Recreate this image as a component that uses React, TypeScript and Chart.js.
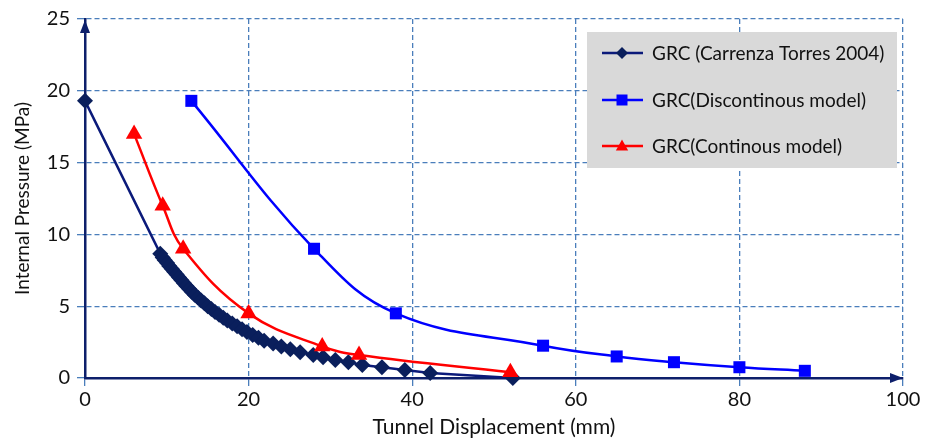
import React, { useEffect, useRef } from "react";
import { Chart, registerables } from "chart.js";

Chart.register(...registerables);

// Ground reaction curves: tunnel displacement (mm) vs internal pressure (MPa)
const carranzaDisp = [
  0, 9.2, 9.5, 9.75, 10.05, 10.3, 10.6, 10.9, 11.2, 11.5, 11.8, 12.1, 12.4, 12.75,
  13.05, 13.4, 13.8, 14.2, 14.6, 15.0, 15.45, 15.9, 16.4, 16.9, 17.4, 18.0, 18.6,
  19.2, 19.8, 20.5, 21.2, 21.9, 23.0, 24.0, 25.1, 26.3, 27.9, 29.1, 30.6, 32.2,
  33.9, 36.3, 39.1, 42.2, 52.3,
];
const carranzaPress = [
  19.3, 8.66, 8.4, 8.2, 8.0, 7.8, 7.6, 7.4, 7.2, 7.0, 6.8, 6.6, 6.4, 6.2,
  6.0, 5.8, 5.6, 5.4, 5.2, 5.0, 4.8, 4.6, 4.4, 4.2, 4.0, 3.8, 3.6,
  3.4, 3.2, 3.0, 2.8, 2.6, 2.4, 2.2, 2.0, 1.8, 1.6, 1.45, 1.25, 1.1,
  0.9, 0.75, 0.55, 0.35, 0,
];
const discontDisp = [13, 28, 38, 56, 65, 72, 80, 88];
const discontPress = [19.3, 9.0, 4.5, 2.25, 1.5, 1.1, 0.75, 0.5];
const contDisp = [6, 9.5, 12, 20, 29, 33.5, 52];
const contPress = [17, 12, 9, 4.5, 2.2, 1.6, 0.4];

const seriesNames = [
  "GRC (Carrenza Torres 2004)",
  "GRC(Discontinous model)",
  "GRC(Continous model)",
];
const xTitle = "Tunnel Displacement (mm)";
const yTitle = "Internal Pressure (MPa)";

const NAVY_LINE = "#0B1A7A";
const NAVY_FILL = "#0A1F5C";
const BLUE = "#0000FF";
const RED = "#FF0000";
const AXIS = "#0D1F6B";
const GRID = "#4A7EBB";
const TEXT = "#111111";
const FONT = "Lato, 'Open Sans', sans-serif";

const pairs = (xs: number[], ys: number[]) => xs.map((x, i) => ({ x, y: ys[i] }));

type Marker = "diamond" | "square" | "triangle";

function drawMarker(ctx: CanvasRenderingContext2D, kind: Marker, x: number, y: number, r: number, color: string) {
  ctx.fillStyle = color;
  ctx.beginPath();
  if (kind === "diamond") {
    ctx.moveTo(x, y - r);
    ctx.lineTo(x + r, y);
    ctx.lineTo(x, y + r);
    ctx.lineTo(x - r, y);
  } else if (kind === "square") {
    ctx.rect(x - r, y - r, 2 * r, 2 * r);
  } else {
    ctx.moveTo(x, y - r);
    ctx.lineTo(x + r * 0.95, y + r * 0.7);
    ctx.lineTo(x - r * 0.95, y + r * 0.7);
  }
  ctx.closePath();
  ctx.fill();
}

const decorPlugin = {
  id: "decor",
  afterDraw(chart: any) {
    const { ctx, chartArea: a } = chart;
    ctx.save();
    // axis arrowheads
    ctx.fillStyle = AXIS;
    ctx.beginPath();
    ctx.moveTo(a.left, a.top + 1);
    ctx.lineTo(a.left - 5, a.top + 14);
    ctx.lineTo(a.left + 5, a.top + 14);
    ctx.closePath();
    ctx.fill();
    ctx.beginPath();
    ctx.moveTo(a.right, a.bottom);
    ctx.lineTo(a.right - 13, a.bottom - 5);
    ctx.lineTo(a.right - 13, a.bottom + 5);
    ctx.closePath();
    ctx.fill();

    // legend box
    const bx = 587, by = 32, bw = 310, bh = 136;
    ctx.fillStyle = "#D9D9D9";
    ctx.fillRect(bx, by, bw, bh);
    const rows = [53, 100, 146];
    const lineColors = [NAVY_LINE, BLUE, RED];
    const markColors = [NAVY_FILL, BLUE, RED];
    const kinds: Marker[] = ["diamond", "square", "triangle"];
    const sizes = [6, 5.5, 6.5];
    ctx.font = `19px ${FONT}`;
    ctx.textBaseline = "middle";
    ctx.textAlign = "left";
    rows.forEach((ry, i) => {
      ctx.strokeStyle = lineColors[i];
      ctx.lineWidth = 2.5;
      ctx.beginPath();
      ctx.moveTo(602, ry);
      ctx.lineTo(643, ry);
      ctx.stroke();
      drawMarker(ctx, kinds[i], 622, ry, sizes[i], markColors[i]);
      ctx.fillStyle = TEXT;
      ctx.fillText(seriesNames[i], 652, ry + 1);
    });
    ctx.restore();
  },
};

const gridOpts = {
  color: GRID,
  lineWidth: 1.3,
  tickLength: 8,
  tickColor: GRID,
  tickBorderDash: [],
};
const borderOpts = { display: true, color: AXIS, width: 2.5, dash: [5, 3] };

export default function App() {
  const canvasRef = useRef<HTMLCanvasElement | null>(null);

  useEffect(() => {
    const canvas = canvasRef.current;
    if (!canvas) return;
    const chart = new Chart(canvas, {
      type: "line",
      data: {
        datasets: [
          {
            label: seriesNames[0],
            data: pairs(carranzaDisp, carranzaPress),
            borderColor: NAVY_LINE,
            backgroundColor: NAVY_FILL,
            borderWidth: 2.5,
            pointStyle: "rectRot",
            pointRadius: 8,
            pointBorderWidth: 0,
            pointBackgroundColor: NAVY_FILL,
            tension: 0,
            order: 3,
            clip: false as any,
          },
          {
            label: seriesNames[1],
            data: pairs(discontDisp, discontPress),
            borderColor: BLUE,
            backgroundColor: BLUE,
            borderWidth: 2.5,
            pointStyle: "rect",
            pointRadius: 8.5,
            pointBorderWidth: 0,
            pointBackgroundColor: BLUE,
            tension: 0.4,
            order: 2,
            clip: false as any,
          },
          {
            label: seriesNames[2],
            data: pairs(contDisp, contPress),
            borderColor: RED,
            backgroundColor: RED,
            borderWidth: 2.5,
            pointStyle: "triangle",
            pointRadius: 9.5,
            pointBorderWidth: 0,
            pointBackgroundColor: RED,
            tension: 0.4,
            order: 1,
            clip: false as any,
          },
        ],
      },
      options: {
        responsive: false,
        animation: false,
        devicePixelRatio: 1,
        layout: { padding: { top: 18, right: 32, left: 0, bottom: 0 } },
        plugins: { legend: { display: false }, tooltip: { enabled: false } },
        scales: {
          x: {
            type: "linear",
            min: 0,
            max: 100,
            ticks: { stepSize: 20, color: TEXT, font: { family: FONT, size: 20 }, padding: 2 },
            grid: gridOpts as any,
            border: borderOpts as any,
            title: {
              display: true,
              text: xTitle,
              color: TEXT,
              font: { family: FONT, size: 21 },
              padding: { top: 0, bottom: 2 },
            },
            afterFit: (s: any) => {
              s.height = 64;
            },
          },
          y: {
            type: "linear",
            min: 0,
            max: 25,
            ticks: { stepSize: 5, color: TEXT, font: { family: FONT, size: 20 }, padding: 7 },
            grid: gridOpts as any,
            border: borderOpts as any,
            title: {
              display: true,
              text: yTitle,
              color: TEXT,
              font: { family: FONT, size: 19 },
              padding: { top: 11, bottom: 0 },
            },
            afterFit: (s: any) => {
              s.width = 85;
            },
          },
        },
      },
      plugins: [decorPlugin],
    });
    return () => chart.destroy();
  }, []);

  return (
    <div style={{ position: "absolute", left: 0, top: 0, width: 935, height: 442, background: "#fff" }}>
      <canvas ref={canvasRef} width={935} height={442} />
    </div>
  );
}
